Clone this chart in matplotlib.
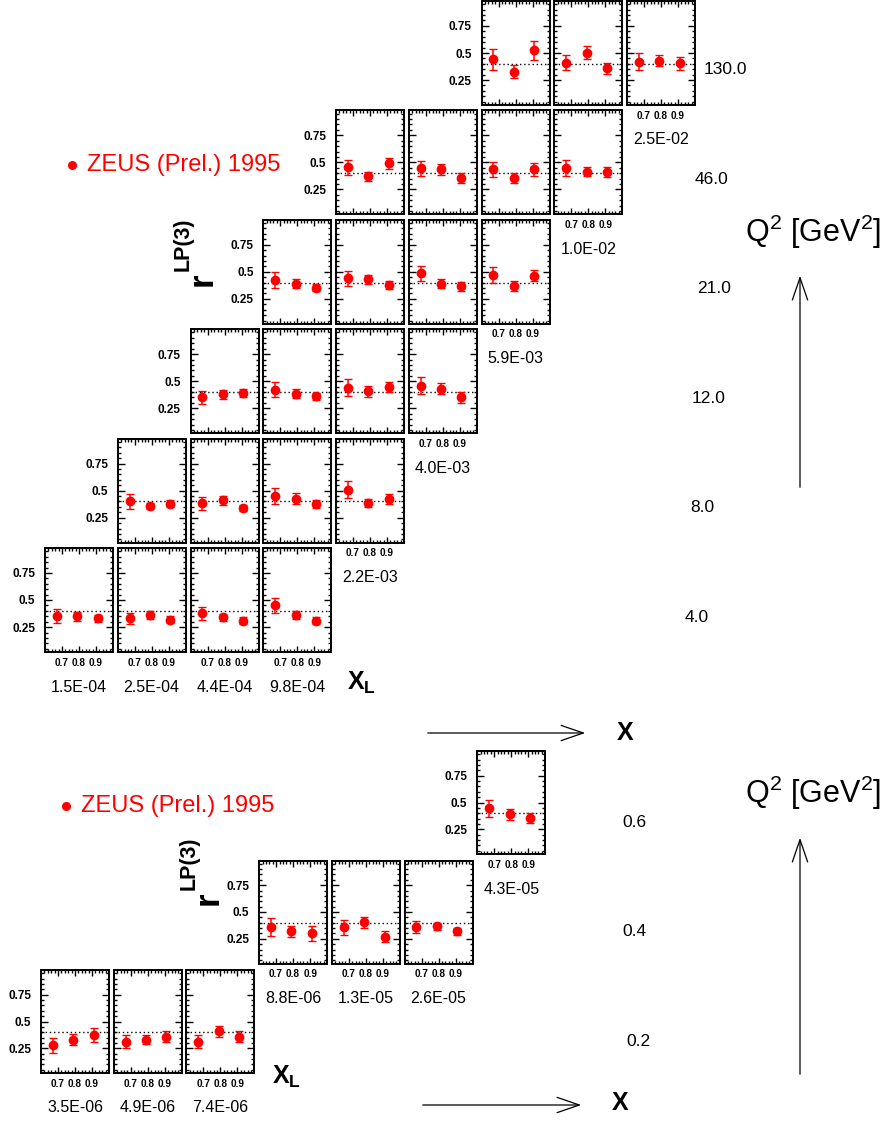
import matplotlib
matplotlib.use('Agg')
import matplotlib.pyplot as plt
from matplotlib.patches import FancyArrowPatch

plt.rcParams['font.family'] = ['Liberation Sans', 'DejaVu Sans']
plt.rcParams['mathtext.fontset'] = 'custom'
plt.rcParams['mathtext.rm'] = 'Liberation Sans'
plt.rcParams['mathtext.bf'] = 'Liberation Sans:bold'
plt.rcParams['mathtext.it'] = 'Liberation Sans:italic'
plt.rcParams['mathtext.default'] = 'regular'

# x_L bins (same in every panel)
xl_bins = [0.67, 0.79, 0.91]
ref_line = 0.4

# ---- upper block: Q2 = 4 .. 130 GeV^2 ----
top_q2 = ['4.0', '8.0', '12.0', '21.0', '46.0', '130.0']
top_x = ['1.5E-04', '2.5E-04', '4.4E-04', '9.8E-04', '2.2E-03',
         '4.0E-03', '5.9E-03', '1.0E-02', '2.5E-02']
top_cols = [[0, 1, 2, 3], [1, 2, 3, 4], [2, 3, 4, 5], [3, 4, 5, 6], [4, 5, 6, 7], [6, 7, 8]]
top_r = [
    [[0.35, 0.35, 0.33], [0.33, 0.36, 0.32], [0.38, 0.34, 0.31], [0.45, 0.36, 0.31]],
    [[0.40, 0.36, 0.38], [0.385, 0.41, 0.34], [0.45, 0.425, 0.375], [0.51, 0.385, 0.425]],
    [[0.35, 0.38, 0.39], [0.42, 0.385, 0.36], [0.44, 0.405, 0.445], [0.46, 0.43, 0.35]],
    [[0.425, 0.39, 0.355], [0.44, 0.43, 0.38], [0.485, 0.39, 0.365], [0.47, 0.37, 0.465]],
    [[0.455, 0.37, 0.49], [0.445, 0.435, 0.355], [0.435, 0.355, 0.435], [0.45, 0.415, 0.41]],
    [[0.44, 0.325, 0.525], [0.41, 0.50, 0.36], [0.42, 0.43, 0.405]],
]
top_err = [
    [[0.065, 0.04, 0.03], [0.05, 0.035, 0.03], [0.06, 0.03, 0.03], [0.07, 0.035, 0.03]],
    [[0.07, 0.03, 0.03], [0.06, 0.04, 0.03], [0.07, 0.05, 0.035], [0.08, 0.04, 0.045]],
    [[0.06, 0.04, 0.035], [0.07, 0.04, 0.035], [0.08, 0.05, 0.045], [0.08, 0.05, 0.05]],
    [[0.07, 0.04, 0.035], [0.07, 0.045, 0.035], [0.07, 0.04, 0.045], [0.07, 0.045, 0.05]],
    [[0.07, 0.04, 0.05], [0.07, 0.05, 0.045], [0.07, 0.045, 0.06], [0.075, 0.045, 0.045]],
    [[0.10, 0.06, 0.09], [0.07, 0.06, 0.05], [0.08, 0.05, 0.06]],
]

# ---- lower block: Q2 = 0.2 .. 0.6 GeV^2 ----
bot_q2 = ['0.2', '0.4', '0.6']
bot_x = ['3.5E-06', '4.9E-06', '7.4E-06', '8.8E-06', '1.3E-05', '2.6E-05', '4.3E-05']
bot_cols = [[0, 1, 2], [3, 4, 5], [6]]
bot_r = [
    [[0.28, 0.33, 0.37], [0.31, 0.33, 0.36], [0.31, 0.41, 0.36]],
    [[0.36, 0.32, 0.30], [0.36, 0.405, 0.27], [0.36, 0.365, 0.32]],
    [[0.445, 0.39, 0.355]],
]
bot_err = [
    [[0.07, 0.05, 0.065], [0.06, 0.04, 0.05], [0.06, 0.05, 0.05]],
    [[0.08, 0.05, 0.07], [0.07, 0.05, 0.05], [0.06, 0.03, 0.03]],
    [[0.08, 0.05, 0.05]],
]

W, H = 885, 1121
fig = plt.figure(figsize=(W / 100, H / 100), dpi=100)
# overlay in pixel coords for the labels and arrows
ov = fig.add_axes([0, 0, 1, 1])
ov.set_xlim(0, W)
ov.set_ylim(H, 0)
ov.axis('off')


def small_panel(left, top, pw, ph, r, err, ylab, xlab):
    ax = fig.add_axes([left / W, 1 - (top + ph) / H, pw / W, ph / H])
    ax.axhline(ref_line, color='black', ls=(0, (1, 2)), lw=1)
    ax.errorbar(xl_bins, r, yerr=err, fmt='o', color='red', ms=6,
                elinewidth=1.1, capsize=2.8, capthick=1.0)
    ax.set_xlim(0.6, 1.0)
    ax.set_ylim(0.02, 0.98)
    ax.set_xticks([0.7, 0.8, 0.9], labels=['0.7', '0.8', '0.9'])
    ax.set_xticks([0.62 + 0.02 * k for k in range(19)], minor=True)
    ax.set_yticks([0.25, 0.5, 0.75], labels=['0.25', '0.5', '0.75'])
    ax.set_yticks([0.05 * k for k in range(1, 20)], minor=True)
    ax.tick_params(which='both', direction='in', top=True, right=True, width=1)
    ax.tick_params(axis='y', which='major', length=5, pad=7, labelsize=8.5)
    ax.tick_params(axis='x', which='major', length=4, pad=4, labelsize=7.2)
    ax.tick_params(which='minor', length=2.2)
    ax.tick_params(labelleft=ylab, labelbottom=xlab)
    for lb in ax.get_xticklabels() + ax.get_yticklabels():
        lb.set_fontweight('bold')
    for s in ax.spines.values():
        s.set_linewidth(1.4)
    return ax


def draw_block(r_vals, r_errs, cols, q2_labels, x_labels, x0, top0, dx, dy, pw, ph,
               q2_pos, q2_dy):
    # lowest row each column shows up in -> x tick labels + x bin label
    lowest = {}
    for i, cs in enumerate(cols):
        for c in cs:
            lowest.setdefault(c, i)
    for i, cs in enumerate(cols):
        top = top0 - dy * i
        for j, c in enumerate(cs):
            left = x0 + dx * c
            is_low = lowest[c] == i
            small_panel(left, top, pw, ph, r_vals[i][j], r_errs[i][j], j == 0, is_low)
            if is_low:
                ov.text(left + pw / 2, top + ph + 35, x_labels[c], ha='center',
                        va='center', fontsize=11.5)
        ov.text(q2_pos[i], top + ph / 2 + q2_dy, q2_labels[i], ha='left',
                va='center', fontsize=12.5)


draw_block(top_r, top_err, top_cols, top_q2, top_x, 45, 548, 72.75, 109.4, 68, 104,
           [685, 690, 692, 697, 695, 704], 17)
draw_block(bot_r, bot_err, bot_cols, bot_q2, bot_x, 41, 970, 72.7, 109.5, 68, 103,
           [626, 622, 622], 20)


def arrow(p0, p1):
    ov.add_patch(FancyArrowPatch(p0, p1, arrowstyle='->,head_length=1.6,head_width=0.55',
                                 mutation_scale=10, lw=0.9, color='black'))


# upper block decorations
ov.plot([72], [165], 'o', color='red', ms=5.5)
ov.text(87, 165, 'ZEUS (Prel.) 1995', color='red', fontsize=17, va='center')
ov.text(202, 279, 'r', fontsize=25, fontweight='bold', rotation=90, ha='center', va='center')
ov.text(183, 244, 'LP(3)', fontsize=15.5, fontweight='bold', rotation=90, ha='center', va='center')
ov.text(362, 683, r'$\mathbf{X_L}$', fontsize=18, ha='center', va='center')
ov.text(625, 733, 'X', fontsize=18, fontweight='bold', ha='center', va='center')
ov.text(813, 232, r'Q$^2$ [GeV$^2$]', fontsize=22, ha='center', va='center')
arrow((425, 733), (588, 733))
arrow((800, 490), (800, 273))

# lower block decorations
ov.plot([66], [806], 'o', color='red', ms=5.5)
ov.text(81, 806, 'ZEUS (Prel.) 1995', color='red', fontsize=17, va='center')
ov.text(208, 898, 'r', fontsize=25, fontweight='bold', rotation=90, ha='center', va='center')
ov.text(189, 863, 'LP(3)', fontsize=15.5, fontweight='bold', rotation=90, ha='center', va='center')
ov.text(287, 1077, r'$\mathbf{X_L}$', fontsize=18, ha='center', va='center')
ov.text(620, 1103, 'X', fontsize=18, fontweight='bold', ha='center', va='center')
ov.text(813, 793, r'Q$^2$ [GeV$^2$]', fontsize=22, ha='center', va='center')
arrow((420, 1105), (584, 1105))
arrow((800, 1077), (800, 835))

fig.savefig('out.png', dpi=100)
